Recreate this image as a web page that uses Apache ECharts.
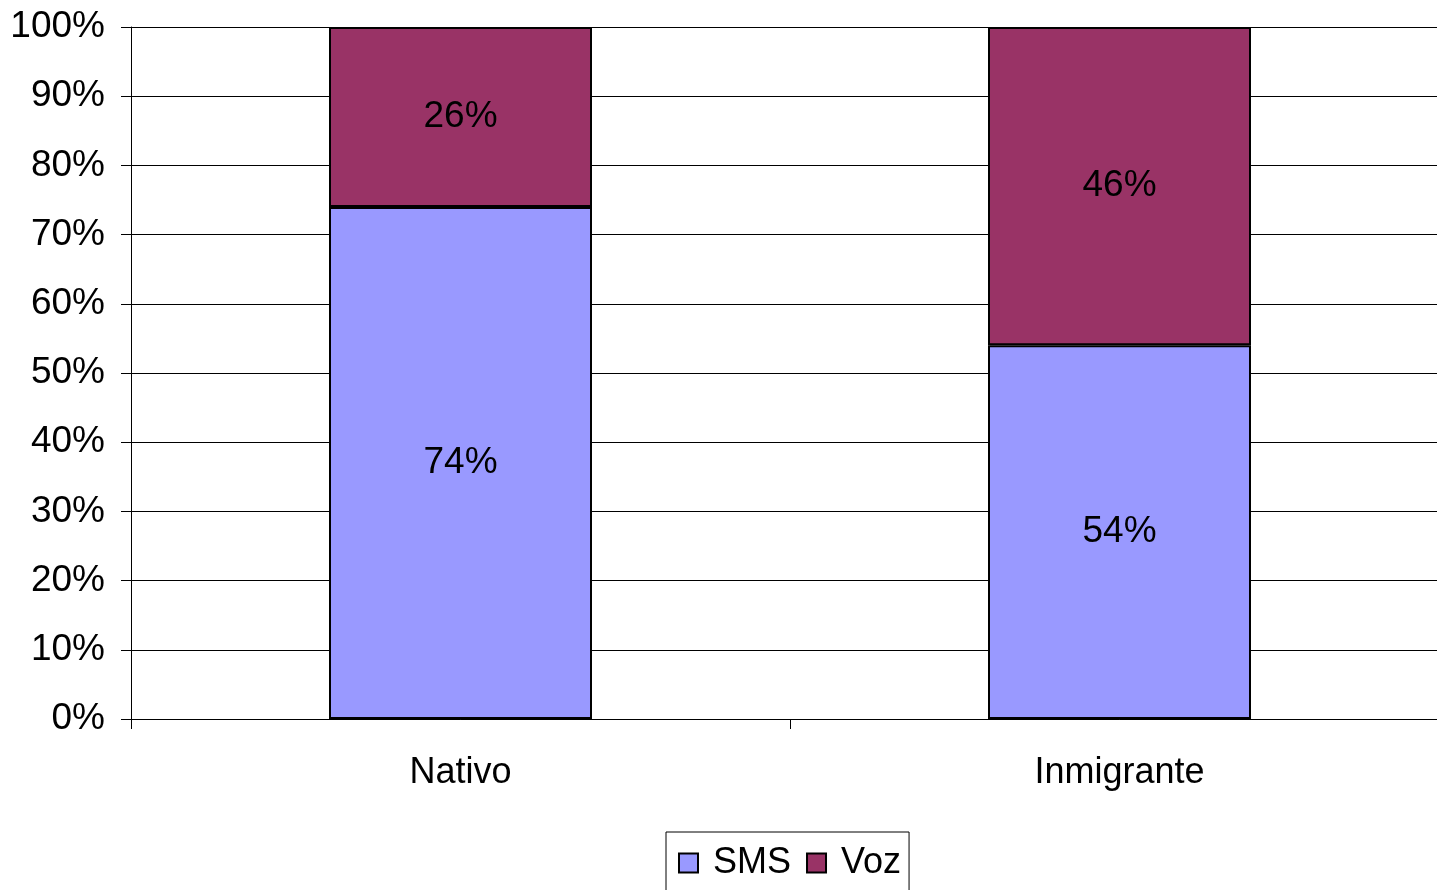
<!DOCTYPE html>
<html>
<head>
<meta charset="utf-8">
<script src="https://cdn.jsdelivr.net/npm/echarts@6/dist/echarts.min.js"></script>
<style>
html,body{margin:0;padding:0;background:#fff;overflow:hidden;width:1437px;height:890px;}
#chart{width:1449px;height:890px;}
</style>
</head>
<body>
<div id="chart"></div>
<script>
const categories = ['Nativo', 'Inmigrante'];
const smsValues = [74, 54];
const vozValues = [26, 46];
const yTickLabels = ['0%','10%','20%','30%','40%','50%','60%','70%','80%','90%','100%'];

const FONT = 'Liberation Sans, Arial, sans-serif';
const chart = echarts.init(document.getElementById('chart'), null, {renderer: 'canvas'});
chart.setOption({
  animation: false,
  backgroundColor: '#fff',
  grid: {left: 131, right: 0, top: 27, bottom: 171, containLabel: false},
  legend: {
    data: ['SMS', 'Voz'],
    left: 666, top: 832,
    orient: 'horizontal',
    icon: 'rect',
    itemWidth: 19, itemHeight: 19,
    itemGap: 15,
    padding: [13, 8, 20, 12],
    borderColor: '#000', borderWidth: 1,
    textStyle: {fontFamily: FONT, fontSize: 36, color: '#000', padding: [0,0,0,10]},
    itemStyle: {borderColor: '#000', borderWidth: 2}
  },
  xAxis: {
    type: 'category',
    data: categories,
    axisLine: {show: true, lineStyle: {color: '#000', width: 1}},
    axisTick: {show: true, length: 10, lineStyle: {color: '#000'}},
    axisLabel: {fontFamily: FONT, fontSize: 36, color: '#000', margin: 36},
    splitLine: {show: false}
  },
  yAxis: {
    type: 'value',
    min: 0, max: 100, interval: 10,
    axisLine: {show: true, lineStyle: {color: '#000', width: 1}},
    axisTick: {show: true, length: 10, lineStyle: {color: '#000'}},
    axisLabel: {
      fontFamily: FONT, fontSize: 37, color: '#000', margin: 26,
      formatter: function (v) { return yTickLabels[Math.round(v / 10)]; }
    },
    splitLine: {show: true, lineStyle: {color: '#000', width: 1}}
  },
  series: [
    {
      name: 'SMS', type: 'bar', stack: 'total',
      data: smsValues,
      barWidth: 263,
      itemStyle: {color: '#9999ff', borderColor: '#000', borderWidth: 2},
      label: {show: true, position: 'inside', fontFamily: FONT, fontSize: 37, color: '#000',
        formatter: function (p) { return p.value + '%'; }}
    },
    {
      name: 'Voz', type: 'bar', stack: 'total',
      data: vozValues,
      barWidth: 263,
      itemStyle: {color: '#993366', borderColor: '#000', borderWidth: 2},
      label: {show: true, position: 'inside', fontFamily: FONT, fontSize: 37, color: '#000',
        formatter: function (p) { return p.value + '%'; }}
    }
  ]
});
</script>
</body>
</html>
